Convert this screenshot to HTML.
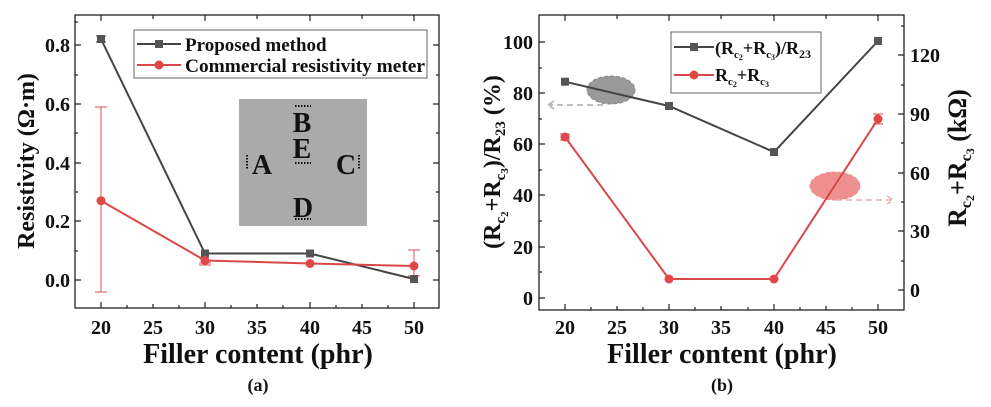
<!DOCTYPE html>
<html><head><style>body{margin:0;background:#fff}svg{display:block}text{font-family:"Liberation Serif",serif;font-weight:bold;fill:#111}</style></head><body>
<svg width="991" height="407" viewBox="0 0 991 407">
<!-- Panel A -->
<g>
<rect x="75" y="15" width="364" height="293" fill="none" stroke="#222" stroke-width="1.3"/>
<g stroke="#222" stroke-width="1.2">
<path d="M101,308v-6M153,308v-4M205,308v-6M257,308v-4M310,308v-6M362,308v-4M414,308v-6M127,308v-3M179,308v-3M231,308v-3M283,308v-3M336,308v-3M388,308v-3"/>
<path d="M101,15v6M153,15v4M205,15v6M257,15v4M310,15v6M362,15v4M414,15v6"/>
<path d="M75,280h6M75,221h6M75,163h6M75,104h6M75,45h6M75,251h3M75,192h3M75,133h3M75,75h3M75,22h3"/>
<path d="M439,280h-6M439,221h-6M439,163h-6M439,104h-6M439,45h-6M439,251h-3M439,192h-3M439,133h-3M439,75h-3"/>
</g>
<g font-size="20" text-anchor="end">
<text x="70" y="287">0.0</text><text x="70" y="228">0.2</text><text x="70" y="170">0.4</text><text x="70" y="111">0.6</text><text x="70" y="52">0.8</text>
</g>
<g font-size="20" text-anchor="middle">
<text x="101" y="334">20</text><text x="153" y="334">25</text><text x="205" y="334">30</text><text x="257" y="334">35</text><text x="310" y="334">40</text><text x="362" y="334">45</text><text x="414" y="334">50</text>
</g>
<text x="258" y="363" font-size="28" text-anchor="middle">Filler content (phr)</text>
<text x="258" y="391" font-size="18" text-anchor="middle">(a)</text>
<text transform="translate(34,161) rotate(-90)" font-size="24" text-anchor="middle">Resistivity (Ω·m)</text>
<rect x="239" y="99" width="128" height="127" fill="#aaa"/>
<g font-size="28" text-anchor="middle"><text x="262" y="174">A</text><text x="302" y="132">B</text><text x="302" y="158">E</text><text x="346" y="174">C</text><text x="303" y="217">D</text></g>
<g stroke="#111" stroke-width="2" stroke-dasharray="1.5,1.5"><path d="M295,106h16M295,163h16M295,219h16M247,155v15M359,155v15"/></g>
<g stroke="#d45050" stroke-width="1"><path d="M101,107V292M95,107h12M95,292h12M414,250V276M408,250h12M408,276h12M199,265h12M199,263h12"/></g>
<path d="M205,253.5H310L414,279" fill="none" stroke="#444" stroke-width="2"/>
<path d="M101,39L205,253.5" fill="none" stroke="#444" stroke-width="2"/>
<path d="M96,36h10M96,42h10M101,36v6" stroke="#444"/>
<g fill="#555"><rect x="97" y="35" width="8" height="8"/><rect x="201" y="249.5" width="8" height="8"/><rect x="306" y="249.5" width="8" height="8"/><rect x="410" y="275" width="8" height="8"/></g>
<path d="M101,200.7L205,260.5L310,263.5L414,266" fill="none" stroke="#d94848" stroke-width="2"/>
<g fill="#e04848"><circle cx="101" cy="200.7" r="4.5"/><circle cx="205" cy="260.5" r="4.5"/><circle cx="310" cy="263.5" r="4.5"/><circle cx="414" cy="266" r="4.5"/></g>
<rect x="134" y="30" width="293" height="48" fill="#fff" stroke="#666"/>
<path d="M137,44h44" stroke="#444" stroke-width="2"/><rect x="155" y="40" width="8" height="8" fill="#555"/>
<path d="M137,65h44" stroke="#d94848" stroke-width="2"/><circle cx="159" cy="65" r="4.5" fill="#e04848"/>
<text x="185" y="51" font-size="19">Proposed method</text>
<text x="185" y="72" font-size="19" textLength="240" lengthAdjust="spacingAndGlyphs">Commercial resistivity meter</text>
</g>
<!-- Panel B -->
<g>
<rect x="539" y="15" width="365" height="295" fill="none" stroke="#222" stroke-width="1.3"/>
<g stroke="#222" stroke-width="1.2">
<path d="M565,310v-6M617,310v-4M669,310v-6M721,310v-4M774,310v-6M826,310v-4M878,310v-6M591,310v-3M643,310v-3M695,310v-3M748,310v-3M800,310v-3M852,310v-3"/>
<path d="M565,15v6M617,15v4M669,15v6M721,15v4M774,15v6M826,15v4M878,15v6"/>
<path d="M539,298h6M539,247h6M539,195h6M539,144h6M539,93h6M539,42h6M539,272h3M539,221h3M539,170h3M539,119h3M539,68h3"/>
<path d="M904,290h-6M904,231h-6M904,173h-6M904,114h-6M904,55h-6M904,261h-3M904,202h-3M904,143h-3M904,85h-3M904,26h-3"/>
</g>
<g font-size="20" text-anchor="end">
<text x="533" y="305">0</text><text x="533" y="254">20</text><text x="533" y="202">40</text><text x="533" y="151">60</text><text x="533" y="100">80</text><text x="533" y="49">100</text>
</g>
<g font-size="20" text-anchor="start">
<text x="910" y="297">0</text><text x="910" y="238">30</text><text x="910" y="180">60</text><text x="910" y="121">90</text><text x="910" y="62">120</text>
</g>
<g font-size="20" text-anchor="middle">
<text x="565" y="334">20</text><text x="617" y="334">25</text><text x="669" y="334">30</text><text x="721" y="334">35</text><text x="774" y="334">40</text><text x="826" y="334">45</text><text x="878" y="334">50</text>
</g>
<text x="722" y="363" font-size="28" text-anchor="middle">Filler content (phr)</text>
<text x="722" y="391" font-size="18" text-anchor="middle">(b)</text>
<text transform="translate(500,162) rotate(-90)" font-size="24" text-anchor="middle">(R<tspan font-size="15" dy="5">c<tspan font-size="11" dy="3">2</tspan></tspan><tspan dy="-8">+R</tspan><tspan font-size="15" dy="5">c<tspan font-size="11" dy="3">3</tspan></tspan><tspan dy="-8">)/R</tspan><tspan font-size="15" dy="5">23</tspan><tspan dy="-5"> (%)</tspan></text>
<text transform="translate(966,158) rotate(-90)" font-size="26" text-anchor="middle">R<tspan font-size="16" dy="5">c<tspan font-size="12" dy="3">2</tspan></tspan><tspan dy="-8">+R</tspan><tspan font-size="16" dy="5">c<tspan font-size="12" dy="3">3</tspan></tspan><tspan dy="-8"> (kΩ)</tspan></text>
<ellipse cx="611" cy="90" rx="24" ry="14" fill="#999" stroke="#888" stroke-dasharray="4,2"/>
<path d="M603,105H548M554,101l-6,4 6,4" fill="none" stroke="#aaa" stroke-width="1.5" stroke-dasharray="6,4"/>
<ellipse cx="835" cy="186" rx="25" ry="14" fill="#f08f8f" stroke="#e88" stroke-dasharray="4,2"/>
<path d="M836,200H893M887,196l6,4 -6,4" fill="none" stroke="#eaa" stroke-width="1.5" stroke-dasharray="6,4"/>
<path d="M565,81.7L669,106L774,152L878,41" fill="none" stroke="#444" stroke-width="2"/>
<g fill="#555"><rect x="561" y="77.7" width="8" height="8"/><rect x="665" y="102" width="8" height="8"/><rect x="770" y="148" width="8" height="8"/><rect x="874" y="37" width="8" height="8"/></g>
<path d="M565,137L669,279L774,279L878,119" fill="none" stroke="#d94848" stroke-width="2"/>
<g stroke="#d94848"><path d="M560,134h10M560,140h10M873,114h10M873,124h10"/></g>
<g fill="#e04848"><circle cx="565" cy="137" r="4.5"/><circle cx="669" cy="279" r="4.5"/><circle cx="774" cy="279" r="4.5"/><circle cx="878" cy="119" r="4.5"/></g>
<rect x="671" y="32" width="150" height="61" fill="#fff" stroke="#666"/>
<path d="M674,47h40" stroke="#444" stroke-width="2"/><rect x="690" y="43" width="8" height="8" fill="#555"/>
<path d="M674,75h40" stroke="#d94848" stroke-width="2"/><circle cx="694" cy="75" r="4.5" fill="#e04848"/>
<text x="715" y="54" font-size="18">(R<tspan font-size="11" dy="4">c<tspan font-size="8" dy="2">2</tspan></tspan><tspan dy="-6">+R</tspan><tspan font-size="11" dy="4">c<tspan font-size="8" dy="2">3</tspan></tspan><tspan dy="-6">)/R</tspan><tspan font-size="12" dy="4">23</tspan></text>
<text x="715" y="81" font-size="18">R<tspan font-size="11" dy="4">c<tspan font-size="8" dy="2">2</tspan></tspan><tspan dy="-6">+R</tspan><tspan font-size="11" dy="4">c<tspan font-size="8" dy="2">3</tspan></tspan></text>
</g>
</svg>
</body></html>
